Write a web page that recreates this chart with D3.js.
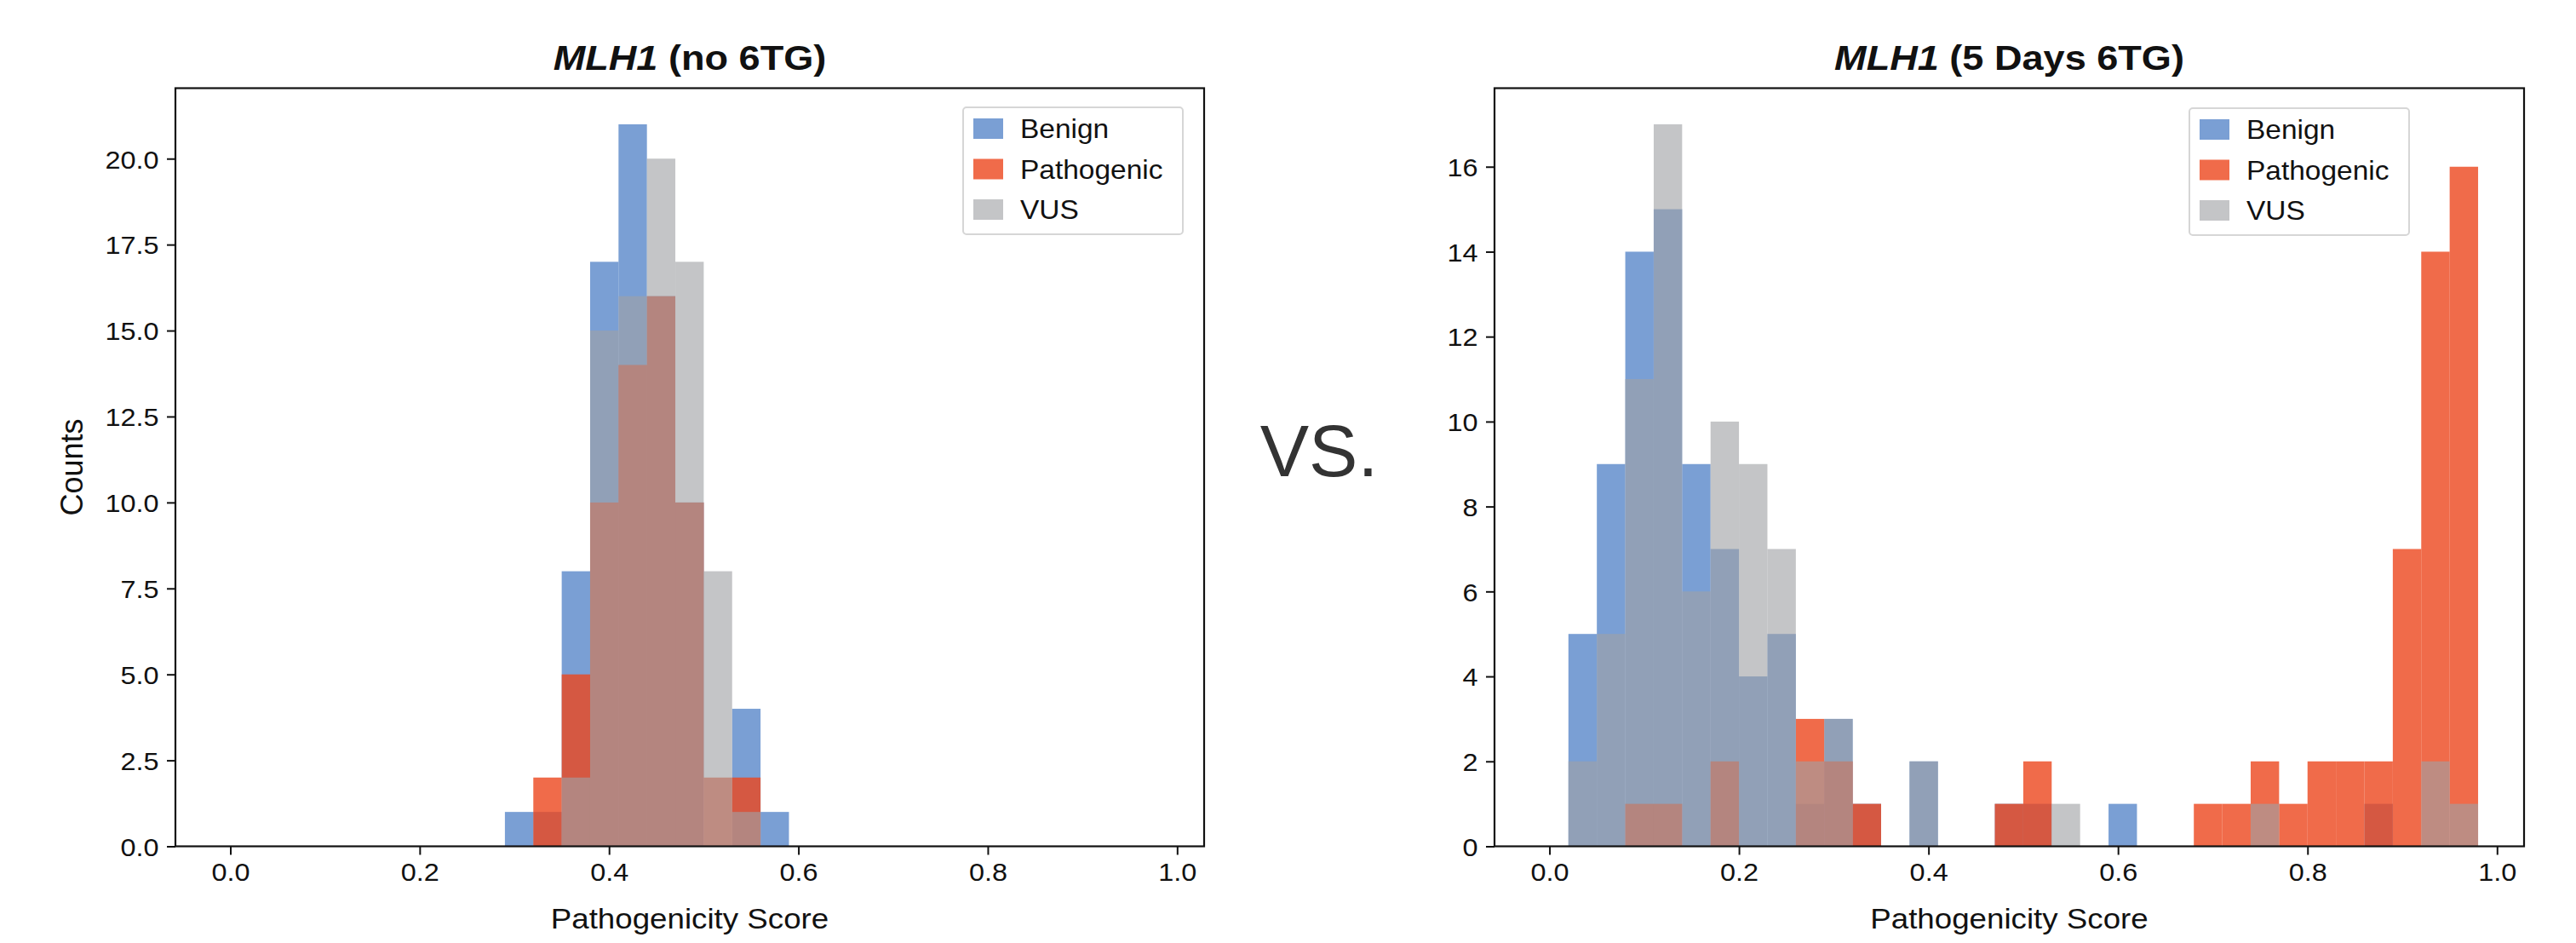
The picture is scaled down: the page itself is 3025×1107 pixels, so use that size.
<!DOCTYPE html>
<html>
<head>
<meta charset="utf-8">
<script src="https://cdn.jsdelivr.net/npm/d3@7"></script>
<style>
  body { margin: 0; background: #fff; }
  svg text { font-family: "Liberation Sans", Arial, sans-serif; fill: #111; }
</style>
</head>
<body>
<svg id="chart"></svg>
<script>
const WIDTH = 3025
const HEIGHT = 1107

// categories, drawn in this order (later ones on top)
const SERIES = ['Benign', 'Pathogenic', 'VUS']
const COLORS = ['rgb(89,135,201)', 'rgb(236,70,29)', 'rgb(160,161,165)']
const OPACITY = [0.8, 0.8, 0.62]

// left panel: MLH1 (no 6TG)
const noTgEdges = [0.29, 0.32, 0.35, 0.38, 0.41, 0.44, 0.47, 0.50, 0.53, 0.56, 0.59]
const noTgBenign = [1, 1, 8, 17, 21, 16, 10, 0, 4, 1]
const noTgPathogenic = [0, 2, 5, 10, 14, 16, 10, 2, 2, 0]
const noTgVUS = [0, 0, 2, 15, 16, 20, 17, 8, 1, 0]
const noTgYTicks = [0, 2.5, 5, 7.5, 10, 12.5, 15, 17.5, 20]

// right panel: MLH1 (5 Days 6TG)
const dayEdges = [0.02, 0.05, 0.08, 0.11, 0.14, 0.17, 0.20, 0.23, 0.26, 0.29, 0.32,
  0.35, 0.38, 0.41, 0.44, 0.47, 0.50, 0.53, 0.56, 0.59, 0.62, 0.65, 0.68, 0.71,
  0.74, 0.77, 0.80, 0.83, 0.86, 0.89, 0.92, 0.95, 0.98]
const dayBenign = [5, 9, 14, 15, 9, 7, 4, 5, 1, 3, 1, 0, 2, 0, 0, 1, 1, 0, 0, 1, 0, 0, 0, 0, 0, 0, 0, 0, 1, 0, 0, 0]
const dayPathogenic = [0, 0, 1, 1, 0, 2, 0, 0, 3, 2, 1, 0, 0, 0, 0, 1, 2, 0, 0, 0, 0, 0, 1, 1, 2, 1, 2, 2, 2, 7, 14, 16]
const dayVUS = [2, 5, 11, 17, 6, 10, 9, 7, 2, 3, 0, 0, 2, 0, 0, 0, 0, 1, 0, 0, 0, 0, 0, 0, 1, 0, 0, 0, 0, 0, 2, 1]
const dayYTicks = [0, 2, 4, 6, 8, 10, 12, 14, 16]

const xTicks = [0, 0.2, 0.4, 0.6, 0.8, 1.0]
const X_DOMAIN = [-0.058, 1.0285]

const STRETCH = 'scale(1.08,1)'

const svg = d3.select('#chart')
  .attr('width', WIDTH)
  .attr('height', HEIGHT)
svg.append('rect').attr('width', WIDTH).attr('height', HEIGHT).attr('fill', '#fff')

function drawPanel(opts) {
  const { left, right, top, bottom } = opts
  const g = svg.append('g')

  const x = d3.scaleLinear().domain(X_DOMAIN).range([left, right])
  const y = d3.scaleLinear().domain([0, opts.yMax]).range([bottom, top])

  // histogram bars, one series at a time
  opts.counts.forEach((counts, s) => {
    g.append('g')
      .selectAll('rect')
      .data(counts.map((c, i) => ({ c, x0: opts.edges[i], x1: opts.edges[i + 1] })).filter(d => d.c > 0))
      .enter()
      .append('rect')
      .attr('x', d => x(d.x0))
      .attr('width', d => x(d.x1) - x(d.x0))
      .attr('y', d => y(d.c))
      .attr('height', d => y(0) - y(d.c))
      .attr('fill', COLORS[s])
      .attr('fill-opacity', OPACITY[s])
  })

  // axes
  const xAxis = g.append('g')
    .attr('transform', `translate(0, ${bottom})`)
    .call(d3.axisBottom(x).tickValues(xTicks).tickFormat(d3.format('.1f')).tickSize(10).tickPadding(9))
  const yAxis = g.append('g')
    .attr('transform', `translate(${left}, 0)`)
    .call(d3.axisLeft(y).tickValues(opts.yTicks).tickFormat(d3.format(opts.yFormat)).tickSize(10).tickPadding(8))

  ;[xAxis, yAxis].forEach(a => {
    a.select('.domain').remove()
    a.selectAll('line').attr('stroke', '#111').attr('stroke-width', 2)
    a.selectAll('text')
      .attr('font-size', 30)
      .attr('fill', '#111')
      .attr('transform', STRETCH)
  })
  yAxis.selectAll('text').attr('dy', '0.36em')
  xAxis.selectAll('text').attr('dy', '0.72em')

  // frame
  g.append('rect')
    .attr('x', left).attr('y', top)
    .attr('width', right - left).attr('height', bottom - top)
    .attr('fill', 'none')
    .attr('stroke', '#111')
    .attr('stroke-width', 2.2)

  // title
  const title = g.append('text')
    .attr('text-anchor', 'middle')
    .attr('font-size', 41)
    .attr('font-weight', 'bold')
    .attr('transform', `translate(${(left + right) / 2}, 82) scale(1.1,1)`)
  title.append('tspan').attr('font-style', 'italic').text('MLH1')
  title.append('tspan').text(` ${opts.subtitle}`)

  // x label
  g.append('text')
    .attr('text-anchor', 'middle')
    .attr('font-size', 34)
    .attr('transform', `translate(${(left + right) / 2}, 1090) ${STRETCH}`)
    .text('Pathogenicity Score')

  if (opts.yLabel) {
    g.append('text')
      .attr('text-anchor', 'middle')
      .attr('font-size', 36)
      .attr('transform', `translate(97, ${(top + bottom) / 2}) rotate(-90)`)
      .text(opts.yLabel)
  }

  // legend
  const lg = g.append('g').attr('transform', `translate(${opts.legendX}, ${opts.legendY})`)
  lg.append('rect')
    .attr('width', 258).attr('height', 149)
    .attr('rx', 4)
    .attr('fill', '#fff')
    .attr('fill-opacity', 0.8)
    .attr('stroke', '#d6d6d6')
    .attr('stroke-width', 2)
  SERIES.forEach((name, i) => {
    const row = lg.append('g').attr('transform', `translate(12, ${25 + i * 47.5})`)
    row.append('rect')
      .attr('y', -12)
      .attr('width', 35).attr('height', 24)
      .attr('fill', COLORS[i])
      .attr('fill-opacity', OPACITY[i])
    row.append('text')
      .attr('font-size', 31)
      .attr('dy', '0.36em')
      .attr('transform', `translate(55, 0) ${STRETCH}`)
      .text(name)
  })
}

drawPanel({
  left: 206, right: 1414, top: 103.5, bottom: 993.5,
  edges: noTgEdges,
  counts: [noTgBenign, noTgPathogenic, noTgVUS],
  yMax: 22.05,
  yTicks: noTgYTicks,
  yFormat: '.1f',
  subtitle: '(no 6TG)',
  yLabel: 'Counts',
  legendX: 1131, legendY: 126
})

drawPanel({
  left: 1755, right: 2964, top: 103.5, bottom: 993.5,
  edges: dayEdges,
  counts: [dayBenign, dayPathogenic, dayVUS],
  yMax: 17.85,
  yTicks: dayYTicks,
  yFormat: 'd',
  subtitle: '(5 Days 6TG)',
  legendX: 2571, legendY: 127
})

svg.append('text')
  .attr('x', 1549)
  .attr('y', 559)
  .attr('text-anchor', 'middle')
  .attr('font-size', 86)
  .attr('fill', '#333')
  .style('fill', '#333')
  .text('VS.')
</script>
</body>
</html>
